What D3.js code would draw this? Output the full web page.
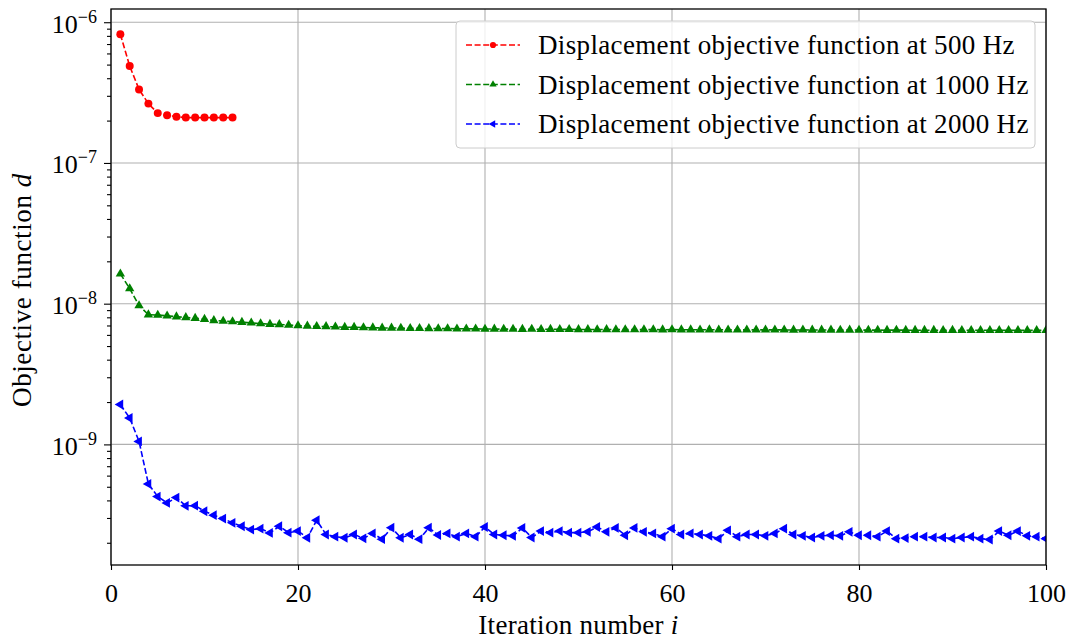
<!DOCTYPE html>
<html>
<head>
<meta charset="utf-8">
<script src="https://cdn.jsdelivr.net/npm/d3@7"></script>
<style>
  body { margin: 0; background: #fff; }
  svg, svg text { font-family: "Liberation Serif", "DejaVu Serif", serif; }
</style>
</head>
<body>
<div id="chart"></div>
<script>
// data: objective function per iteration
var iter500 = [1, 2, 3, 4, 5, 6, 7, 8, 9, 10, 11, 12, 13];
var obj500 = [8.22e-7, 4.88e-7, 3.33e-7, 2.64e-7, 2.26e-7, 2.18e-7, 2.13e-7, 2.10e-7,
              2.10e-7, 2.10e-7, 2.10e-7, 2.10e-7, 2.10e-7];

var iterN = d3.range(1, 101); // iterations 1..100 for the two long runs

var obj1000 = [
  1.63e-8, 1.28e-8, 9.70e-9, 8.35e-9, 8.30e-9, 8.20e-9, 8.08e-9, 7.98e-9, 7.88e-9, 7.75e-9,
  7.60e-9, 7.52e-9, 7.45e-9, 7.38e-9, 7.30e-9, 7.22e-9, 7.15e-9, 7.12e-9, 7.05e-9, 6.98e-9,
  6.94e-9, 6.90e-9, 6.88e-9, 6.84e-9, 6.80e-9, 6.80e-9, 6.76e-9, 6.75e-9, 6.72e-9, 6.72e-9,
  6.70e-9, 6.68e-9, 6.68e-9, 6.66e-9, 6.65e-9, 6.65e-9, 6.63e-9, 6.63e-9, 6.62e-9, 6.60e-9,
  6.61e-9, 6.59e-9, 6.60e-9, 6.58e-9, 6.59e-9, 6.57e-9, 6.58e-9, 6.57e-9, 6.57e-9, 6.56e-9,
  6.56e-9, 6.55e-9, 6.56e-9, 6.55e-9, 6.55e-9, 6.54e-9, 6.55e-9, 6.54e-9, 6.53e-9, 6.54e-9,
  6.53e-9, 6.53e-9, 6.52e-9, 6.53e-9, 6.52e-9, 6.52e-9, 6.52e-9, 6.51e-9, 6.52e-9, 6.51e-9,
  6.51e-9, 6.51e-9, 6.50e-9, 6.51e-9, 6.50e-9, 6.50e-9, 6.50e-9, 6.49e-9, 6.50e-9, 6.49e-9,
  6.49e-9, 6.49e-9, 6.48e-9, 6.49e-9, 6.48e-9, 6.48e-9, 6.48e-9, 6.48e-9, 6.47e-9, 6.48e-9,
  6.47e-9, 6.47e-9, 6.47e-9, 6.47e-9, 6.46e-9, 6.47e-9, 6.46e-9, 6.46e-9, 6.46e-9, 6.46e-9
];

var obj2000 = [
  1.92e-9, 1.54e-9, 1.05e-9, 5.24e-10, 4.26e-10, 3.84e-10, 4.19e-10, 3.66e-10, 3.67e-10, 3.35e-10,
  3.14e-10, 2.97e-10, 2.77e-10, 2.62e-10, 2.48e-10, 2.52e-10, 2.35e-10, 2.62e-10, 2.36e-10, 2.42e-10,
  2.17e-10, 2.89e-10, 2.29e-10, 2.21e-10, 2.17e-10, 2.29e-10, 2.15e-10, 2.33e-10, 2.12e-10, 2.56e-10,
  2.17e-10, 2.29e-10, 2.12e-10, 2.56e-10, 2.27e-10, 2.33e-10, 2.21e-10, 2.33e-10, 2.21e-10, 2.59e-10,
  2.29e-10, 2.26e-10, 2.24e-10, 2.55e-10, 2.18e-10, 2.42e-10, 2.36e-10, 2.42e-10, 2.36e-10, 2.36e-10,
  2.39e-10, 2.59e-10, 2.39e-10, 2.55e-10, 2.26e-10, 2.55e-10, 2.39e-10, 2.33e-10, 2.21e-10, 2.52e-10,
  2.29e-10, 2.33e-10, 2.29e-10, 2.24e-10, 2.14e-10, 2.45e-10, 2.21e-10, 2.29e-10, 2.29e-10, 2.24e-10,
  2.33e-10, 2.52e-10, 2.29e-10, 2.24e-10, 2.18e-10, 2.24e-10, 2.26e-10, 2.24e-10, 2.39e-10, 2.26e-10,
  2.26e-10, 2.21e-10, 2.42e-10, 2.14e-10, 2.16e-10, 2.21e-10, 2.21e-10, 2.18e-10, 2.18e-10, 2.14e-10,
  2.18e-10, 2.21e-10, 2.14e-10, 2.11e-10, 2.42e-10, 2.26e-10, 2.42e-10, 2.24e-10, 2.21e-10, 2.14e-10
];

var seriesNames = ["Displacement objective function at 500 Hz",
                   "Displacement objective function at 1000 Hz",
                   "Displacement objective function at 2000 Hz"];
var xTicks = [0, 20, 40, 60, 80, 100];
var yExponents = [-6, -7, -8, -9];

//---------------------------------------------------------------------------//
// chart setup
var svgWidth = 1070;
var svgHeight = 640;
var margin = { top: 9, right: 24, bottom: 75, left: 111 };
var width = svgWidth - margin.left - margin.right;
var height = svgHeight - margin.top - margin.bottom;

var svg = d3.select("#chart").append("svg")
    .attr("width", svgWidth)
    .attr("height", svgHeight);

var chartGroup = svg.append("g")
    .attr("transform", `translate(${margin.left}, ${margin.top})`);

var xScale = d3.scaleLinear().domain([0, 100]).range([0, width]);
var yScale = d3.scaleLog().domain([Math.pow(10, -9.857), Math.pow(10, -5.906)]).range([height, 0]);

// grid
chartGroup.append("g").selectAll("line")
    .data(xTicks).enter().append("line")
    .attr("x1", d => xScale(d)).attr("x2", d => xScale(d))
    .attr("y1", 0).attr("y2", height)
    .attr("stroke", "#b0b0b0").attr("stroke-width", 1.1);
chartGroup.append("g").selectAll("line")
    .data(yExponents).enter().append("line")
    .attr("x1", 0).attr("x2", width)
    .attr("y1", d => yScale(Math.pow(10, d))).attr("y2", d => yScale(Math.pow(10, d)))
    .attr("stroke", "#b0b0b0").attr("stroke-width", 1.1);

// series
svg.append("defs").append("clipPath").attr("id", "plotclip")
    .append("rect").attr("width", width).attr("height", height);

var plot = chartGroup.append("g").attr("clip-path", "url(#plotclip)");

var series = [
  { x: iter500, y: obj500, color: "#ff0000", symbol: d3.symbolCircle, size: 50, rot: 0 },
  { x: iterN, y: obj1000, color: "#008000", symbol: d3.symbolTriangle, size: 38, rot: 0 },
  { x: iterN, y: obj2000, color: "#0000ff", symbol: d3.symbolTriangle, size: 42, rot: -90 }
];

var line = d3.line().x(d => xScale(d[0])).y(d => yScale(d[1]));

series.forEach(function(s) {
    var pts = s.x.map((xv, k) => [xv, s.y[k]]);
    plot.append("path")
        .datum(pts)
        .attr("d", line)
        .attr("fill", "none")
        .attr("stroke", s.color)
        .attr("stroke-width", 1.6)
        .attr("stroke-dasharray", "6,2.6");
    plot.append("g").selectAll("path")
        .data(pts).enter().append("path")
        .attr("d", d3.symbol().type(s.symbol).size(s.size))
        .attr("transform", d => `translate(${xScale(d[0])}, ${yScale(d[1])}) rotate(${s.rot})`)
        .attr("fill", s.color);
});

// axes
var bottomAxis = d3.axisBottom(xScale).tickValues(xTicks).tickSize(5).tickFormat("");
var xAxisG = chartGroup.append("g")
    .attr("transform", `translate(0, ${height})`)
    .call(bottomAxis)
    .attr("font-family", null);
xAxisG.selectAll(".tick").append("text")
    .attr("y", 37)
    .attr("text-anchor", "middle")
    .attr("fill", "#000")
    .style("font-size", "26px")
    .text(d => d);

var leftAxis = d3.axisLeft(yScale).tickValues(yExponents.map(e => Math.pow(10, e))).tickSize(7).tickFormat("");
var yAxisG = chartGroup.append("g").call(leftAxis).attr("font-family", null);
yAxisG.selectAll(".tick").each(function(d) {
    var t = d3.select(this).append("text")
        .attr("x", -14)
        .attr("y", 10)
        .attr("text-anchor", "end")
        .attr("fill", "#000")
        .style("font-size", "26px");
    t.append("tspan").text("10");
    t.append("tspan").attr("dy", -10).style("font-size", "18px")
        .text("\u2212" + Math.abs(Math.round(Math.log10(d))));
});

// minor ticks on the log axis
var minorVals = [];
[-10, -9, -8, -7, -6].forEach(function(e) {
    [2, 3, 4, 5, 6, 7, 8, 9].forEach(function(m) {
        var v = m * Math.pow(10, e);
        if (v > yScale.domain()[0] && v < yScale.domain()[1]) minorVals.push(v);
    });
});
chartGroup.append("g")
    .call(d3.axisLeft(yScale).tickValues(minorVals).tickSize(4).tickFormat(""))
    .select(".domain").remove();

chartGroup.selectAll(".domain").attr("stroke", "none");
chartGroup.selectAll(".tick line").attr("stroke", "#000").attr("stroke-width", 1.1);

// frame
chartGroup.append("rect")
    .attr("width", width).attr("height", height)
    .attr("fill", "none").attr("stroke", "#000").attr("stroke-width", 1.3);

// axis labels
var xl = svg.append("text")
    .attr("x", margin.left + width / 2)
    .attr("y", 634)
    .attr("text-anchor", "middle")
    .style("font-size", "27px")
    .style("letter-spacing", "0.3px");
xl.append("tspan").text("Iteration number ");
xl.append("tspan").style("font-style", "italic").text("i");

var yl = svg.append("text")
    .attr("transform", `translate(31, ${margin.top + height / 2 + 3}) rotate(-90)`)
    .attr("text-anchor", "middle")
    .style("font-size", "27px")
    .style("letter-spacing", "0.6px");
yl.append("tspan").text("Objective function ");
yl.append("tspan").style("font-style", "italic").text("d");

// legend
var legend = svg.append("g").attr("transform", "translate(456, 21)");
legend.append("rect")
    .attr("width", 579).attr("height", 127)
    .attr("rx", 4)
    .attr("fill", "#fff").attr("fill-opacity", 0.8)
    .attr("stroke", "#cccccc").attr("stroke-width", 1);

series.forEach(function(s, k) {
    var row = legend.append("g").attr("transform", `translate(0, ${24 + k * 39.5})`);
    row.append("line")
        .attr("x1", 10).attr("x2", 64)
        .attr("stroke", s.color).attr("stroke-width", 1.6)
        .attr("stroke-dasharray", "6,2.6");
    row.append("path")
        .attr("d", d3.symbol().type(s.symbol).size(s.size * 0.6))
        .attr("transform", `translate(37, 0) rotate(${s.rot})`)
        .attr("fill", s.color);
    row.append("text")
        .attr("x", 82).attr("y", 9)
        .style("font-size", "27px")
        .style("letter-spacing", "0.35px")
        .text(seriesNames[k]);
});
</script>
</body>
</html>
